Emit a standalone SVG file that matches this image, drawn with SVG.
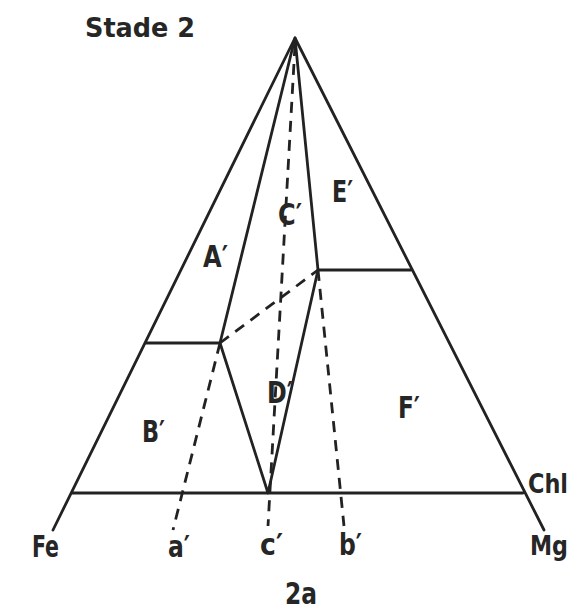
<svg xmlns="http://www.w3.org/2000/svg" width="572" height="612" viewBox="0 0 572 612">
<style>
.s{fill:none;stroke:#222;stroke-width:2.8;stroke-linecap:round;stroke-linejoin:round}
.d{fill:none;stroke:#222;stroke-width:2.8;stroke-dasharray:11 8}
text{font-family:"DejaVu Sans Condensed","Liberation Sans Narrow","Liberation Sans",sans-serif;font-weight:bold;fill:#262626}
.l{font-size:30px}
.r{font-size:27px}
.t{font-size:26px}
</style>
<rect width="572" height="612" fill="#fff"/>
<g id="connectors">
<path class="s" d="M53,530 L295,38 L544,530"/>
<path class="s" d="M72,493 L523,493"/>
<path class="s" d="M295,38 L220,343 L268,493 L318,270 L295,38"/>
<path class="s" d="M146,343 L220,343"/>
<path class="s" d="M318,270 L411,270"/>
<path class="d" d="M220,343 L318,270"/>
<path class="d" d="M295,45 L268,526"/>
<path class="d" d="M220,343 L173,530"/>
<path class="d" d="M318,270 L344,526"/>
</g>
<g id="title"><text class="t" x="85" y="37" textLength="110" lengthAdjust="spacingAndGlyphs">Stade 2</text></g>
<g id="A"><text class="l" x="203" y="267" textLength="25" lengthAdjust="spacingAndGlyphs">A′</text></g>
<g id="C"><text class="l" x="278" y="225" textLength="24" lengthAdjust="spacingAndGlyphs">C′</text></g>
<g id="E"><text class="l" x="332" y="202" textLength="21" lengthAdjust="spacingAndGlyphs">E′</text></g>
<g id="D"><text class="l" x="267" y="403" textLength="26" lengthAdjust="spacingAndGlyphs">D′</text></g>
<g id="B"><text class="l" x="142" y="442" textLength="23" lengthAdjust="spacingAndGlyphs">B′</text></g>
<g id="F"><text class="l" x="398" y="418" textLength="22" lengthAdjust="spacingAndGlyphs">F′</text></g>
<g id="Chl"><text class="r" x="528" y="493" textLength="40" lengthAdjust="spacingAndGlyphs">Chl</text></g>
<g id="Fe"><text class="l" x="32" y="557" textLength="27" lengthAdjust="spacingAndGlyphs">Fe</text></g>
<g id="Mg"><text class="r" x="530" y="555" textLength="38" lengthAdjust="spacingAndGlyphs">Mg</text></g>
<g id="a"><text class="l" x="168" y="557" textLength="22" lengthAdjust="spacingAndGlyphs">a′</text></g>
<g id="c"><text class="l" x="260" y="555" textLength="23" lengthAdjust="spacingAndGlyphs">c′</text></g>
<g id="bp"><text class="l" x="339" y="555" textLength="23" lengthAdjust="spacingAndGlyphs">b′</text></g>
<g id="cap"><text class="l" x="285" y="604" textLength="32" lengthAdjust="spacingAndGlyphs">2a</text></g>
</svg>
